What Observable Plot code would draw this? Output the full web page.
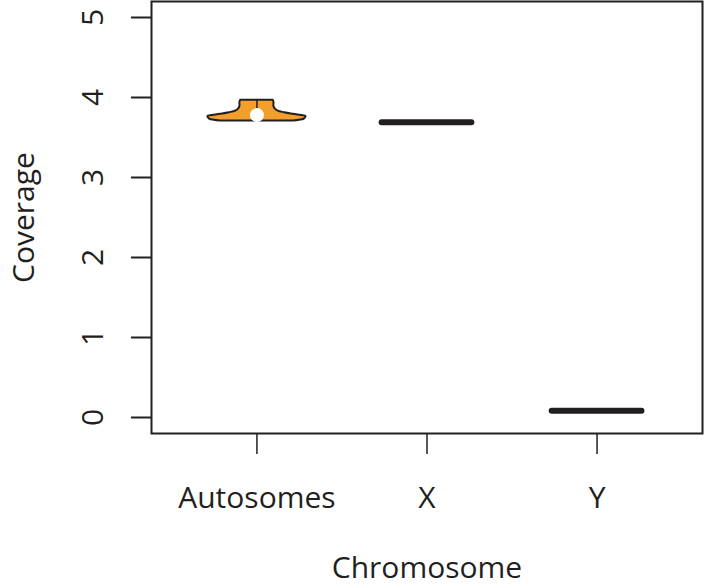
<!DOCTYPE html>
<html>
<head>
<meta charset="utf-8">
<script src="https://cdn.jsdelivr.net/npm/d3@7"></script>
<script src="https://cdn.jsdelivr.net/npm/@observablehq/plot@0.6"></script>
<style>
  html, body { margin: 0; padding: 0; background: #fff; }
</style>
</head>
<body>
<div id="chart"></div>
<script>
// ---- data ----
const categories = ["Autosomes", "X", "Y"];
const positions = [1, 2, 3];
const yTicks = [0, 1, 2, 3, 4, 5];

// Autosomes violin profile (coverage value, half width in category units)
const violinCoverage  = [3.705, 3.715, 3.73, 3.765, 3.775, 3.79, 3.81, 3.83, 3.86, 3.89, 3.94, 3.965];
const violinHalfWidth = [0.215, 0.250, 0.278, 0.288, 0.262, 0.215, 0.162, 0.125, 0.106, 0.100, 0.100, 0.096];
const autosomeMedian = 3.78;
const autosomeWhisker = [3.86, 3.965];

// X and Y: degenerate violins (single value) drawn as thick bars
const lineCategories = ["X", "Y"];
const lineCoverage = [3.69, 0.085];
const lineHalfWidth = 0.264;

// ---- build tables ----
const catPos = new Map(categories.map((c, i) => [c, positions[i]]));
const violin = violinCoverage.map((v, i) => ({
  y: v,
  x1: catPos.get("Autosomes") - violinHalfWidth[i],
  x2: catPos.get("Autosomes") + violinHalfWidth[i]
}));
const lines = lineCategories.map((c, i) => ({
  y: lineCoverage[i],
  x1: catPos.get(c) - lineHalfWidth,
  x2: catPos.get(c) + lineHalfWidth
}));

const ink = "#231f20";
const fs = 30;

const chart = Plot.plot({
  width: 704,
  height: 585,
  marginLeft: 151,
  marginRight: 2,
  marginTop: 1,
  marginBottom: 152,
  style: { fontFamily: "'Open Sans', sans-serif", fontSize: fs + "px", color: ink, background: "#fff" },
  x: { type: "linear", domain: [0.38, 3.62] },
  y: { domain: [-0.2, 5.2] },
  marks: [
    Plot.frame({ stroke: ink, strokeWidth: 2 }),
    Plot.areaX(violin, { y: "y", x1: "x1", x2: "x2", fill: "#f2a02d", stroke: ink, strokeWidth: 2, curve: "catmull-rom" }),
    Plot.ruleX([catPos.get("Autosomes")], { y1: autosomeWhisker[0], y2: autosomeWhisker[1], stroke: ink, strokeWidth: 1.5 }),
    Plot.dot([{ x: catPos.get("Autosomes"), y: autosomeMedian }], { x: "x", y: "y", r: 7, fill: "white", stroke: "none" }),
    Plot.ruleY(lines, { y: "y", x1: "x1", x2: "x2", stroke: ink, strokeWidth: 6, strokeLinecap: "round" }),
    Plot.axisY({
      ticks: yTicks, tickFormat: "d", tickSize: 20, tickPadding: 38, tickRotate: -90,
      textAnchor: "middle", lineAnchor: "middle", fontSize: fs,
      stroke: ink, strokeWidth: 2,
      label: "Coverage", labelAnchor: "center", labelOffset: 139, labelArrow: "none"
    }),
    Plot.axisX({
      ticks: positions, tickFormat: (d) => categories[positions.indexOf(d)],
      tickSize: 21, tickPadding: 32, fontSize: fs,
      stroke: ink, strokeWidth: 1.5,
      label: "Chromosome", labelAnchor: "center", labelOffset: 144, labelArrow: "none"
    })
  ]
});
document.getElementById("chart").appendChild(chart);
</script>
</body>
</html>
